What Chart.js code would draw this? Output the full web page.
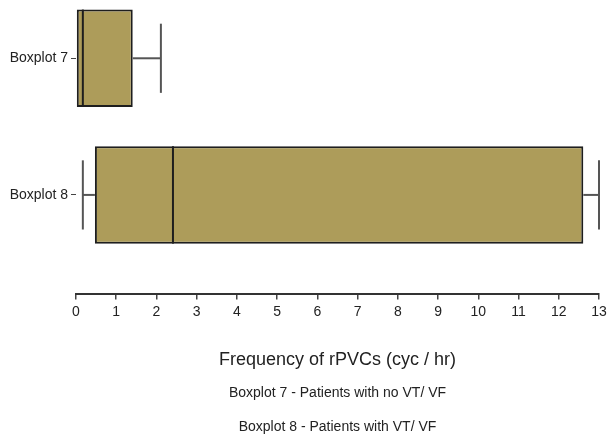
<!DOCTYPE html>
<html>
<head>
<meta charset="utf-8">
<title>rPVC boxplots</title>
<script src="https://cdn.jsdelivr.net/npm/chart.js@4"></script>
<style>
  html, body { margin: 0; padding: 0; background: #fff; }
  #chartBox { width: 607px; height: 438px; }
</style>
</head>
<body>
<div id="chartBox"><canvas id="chart" width="607" height="438"></canvas></div>
<script>
// -------------------- Data --------------------
const categories = ['Boxplot 7', 'Boxplot 8'];
const mins    = [0,    0.17];
const q1s     = [0.02, 0.47];
const medians = [0.17, 2.41];
const q3s     = [1.41, 12.61];
const maxs    = [2.11, 13.0];
const xTickValues = [0, 1, 2, 3, 4, 5, 6, 7, 8, 9, 10, 11, 12, 13];
const axisTitle = 'Frequency of rPVCs (cyc / hr)';
const notes = ['Boxplot 7 - Patients with no VT/ VF', 'Boxplot 8 - Patients with VT/ VF'];

const FONT = '"Liberation Sans", Arial, sans-serif';
const TEXT = '#222';
const BOX_FILL = '#ad9c5a';
const LINE = '#1e1e1e';
const WHISKER = '#555';

// each category sits at 1, 2, ... on a linear y axis
const catPos = categories.map((c, i) => i + 1);

// -------------------- Whiskers + medians --------------------
const boxExtras = {
    id: 'boxExtras',
    afterDatasetsDraw(chart) {
        const meta = chart.getDatasetMeta(0);
        const xs = chart.scales.x;
        const ctx = chart.ctx;
        ctx.save();
        meta.data.forEach((bar, i) => {
            const y = bar.y;
            const h = bar.height;
            const capH = h * 0.71;

            // whiskers
            ctx.strokeStyle = WHISKER;
            ctx.lineWidth = 2;
            const pairs = [[mins[i], q1s[i]], [q3s[i], maxs[i]]];
            pairs.forEach(([a, b]) => {
                if (b - a < 0.05) return;
                const xa = xs.getPixelForValue(a);
                const xb = xs.getPixelForValue(b);
                ctx.beginPath();
                ctx.moveTo(xa, y);
                ctx.lineTo(xb, y);
                ctx.stroke();
            });
            [mins[i], maxs[i]].forEach((v, k) => {
                if (k === 0 && q1s[i] - v < 0.05) return;
                const xv = xs.getPixelForValue(v);
                ctx.beginPath();
                ctx.moveTo(xv, y - capH / 2);
                ctx.lineTo(xv, y + capH / 2);
                ctx.stroke();
            });

            // median
            const xm = xs.getPixelForValue(medians[i]);
            ctx.strokeStyle = LINE;
            ctx.lineWidth = 2;
            ctx.beginPath();
            ctx.moveTo(xm, y - h / 2);
            ctx.lineTo(xm, y + h / 2);
            ctx.stroke();
        });
        ctx.restore();
    }
};

// -------------------- Chart --------------------
new Chart(document.getElementById('chart'), {
    type: 'bar',
    data: {
        datasets: [{
            data: categories.map((c, i) => ({ y: catPos[i], x: [q1s[i], q3s[i]] })),
            backgroundColor: BOX_FILL,
            borderColor: LINE,
            borderWidth: 2,
            borderSkipped: false,
            categoryPercentage: 1,
            barPercentage: 0.713
        }]
    },
    options: {
        indexAxis: 'y',
        responsive: false,
        animation: false,
        layout: { padding: { top: 0, right: 1, bottom: 0, left: 0 } },
        scales: {
            x: {
                type: 'linear',
                min: 0,
                max: 13,
                afterBuildTicks: s => { s.ticks = xTickValues.map(v => ({ value: v })); },
                afterFit: s => { s.paddingRight = 8; },
                grid: { drawOnChartArea: false, drawTicks: true, tickLength: 5, color: '#444', lineWidth: 1.5 },
                border: { display: true, color: '#333', width: 2 },
                ticks: { font: { family: FONT, size: 14 }, color: TEXT, padding: 4, maxRotation: 0 },
                title: {
                    display: true,
                    text: axisTitle,
                    font: { family: FONT, size: 18 },
                    color: TEXT,
                    padding: { top: 25, bottom: 13.6 }
                }
            },
            y: {
                type: 'linear',
                reverse: true,
                offset: false,
                min: 0.5735,
                max: 2.728,
                afterBuildTicks: s => { s.ticks = catPos.map(v => ({ value: v })); },
                afterFit: s => { s.width = 76; s.paddingTop = 0; s.paddingBottom = 0; },
                grid: { offset: false, drawOnChartArea: false, drawTicks: true, tickLength: 5, color: '#444' },
                border: { display: false },
                ticks: {
                    font: { family: FONT, size: 14 },
                    color: TEXT,
                    padding: 3,
                    callback: v => categories[catPos.indexOf(v)] || ''
                }
            }
        },
        plugins: {
            legend: { display: false },
            tooltip: { enabled: false },
            subtitle: {
                display: true,
                text: notes[0],
                position: 'bottom',
                fullSize: false,
                font: { family: FONT, size: 14 },
                color: TEXT,
                padding: { top: 0, bottom: 10 }
            },
            title: {
                display: true,
                text: notes[1],
                position: 'bottom',
                fullSize: false,
                font: { family: FONT, size: 14, weight: 'normal' },
                color: TEXT,
                padding: { top: 8, bottom: 2 }
            }
        }
    },
    plugins: [boxExtras]
});
</script>
</body>
</html>
